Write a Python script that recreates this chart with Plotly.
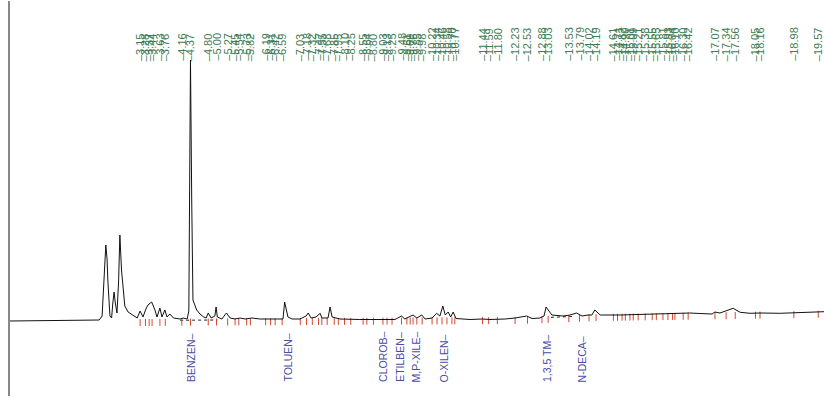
import numpy as np
import plotly.graph_objects as go

# ---- chromatogram trace (retention time in min, detector signal) ----
TIME = [0.00, 0.73, 1.21, 1.69, 2.06, 2.16, 2.23, 2.29, 2.32, 2.35, 2.37, 2.42, 2.46, 2.49, 2.52,
        2.55, 2.59, 2.63, 2.66, 2.70, 2.74, 2.78, 2.86, 2.98, 3.08, 3.15, 3.22, 3.29, 3.34, 3.43,
        3.51, 3.56, 3.63, 3.68, 3.75, 3.80, 3.87, 3.96, 4.12, 4.19, 4.29, 4.33, 4.37, 4.40, 4.43,
        4.52, 4.60, 4.69, 4.75, 4.80, 4.87, 4.96, 4.99, 5.02, 5.13, 5.24, 5.33, 5.45, 5.57, 5.69,
        5.86, 6.05, 6.30, 6.49, 6.61, 6.65, 6.68, 6.73, 6.83, 7.02, 7.17, 7.22, 7.29, 7.41, 7.51,
        7.55, 7.70, 7.75, 7.80, 7.99, 8.47, 8.96, 9.32, 9.48, 9.56, 9.76, 9.85, 9.97, 10.05, 10.22,
        10.33, 10.41, 10.48, 10.54, 10.61, 10.67, 10.73, 10.80, 11.14, 11.43, 11.62, 11.99, 12.23,
        12.51, 12.64, 12.83, 12.93, 12.98, 13.05, 13.12, 13.39, 13.56, 13.72, 13.85, 14.00, 14.09,
        14.16, 14.29, 14.77, 15.25, 15.74, 16.22, 16.46, 16.71, 17.00, 17.07, 17.19, 17.51, 17.68,
        17.92, 18.16, 18.64, 18.89, 19.13, 19.37, 19.71]
SIGNAL = [0.0, 0.3, 0.0, 0.3, 0.5, 1.0, 5.0, 45.0, 76.0, 62.0, 40.0, 5.0, 3.0, 18.0, 29.0,
          18.0, 8.0, 40.0, 86.0, 51.0, 28.0, 15.0, 9.0, 6.0, 3.0, 10.0, 4.0, 12.0, 16.0, 19.0,
          11.0, 4.0, 13.0, 4.0, 11.0, 4.0, 7.0, 3.0, 2.0, 3.0, 2.0, 10.0, 261.0, 120.0, 21.0,
          11.0, 7.0, 4.0, 3.0, 8.0, 3.0, 5.0, 14.0, 4.0, 2.0, 8.0, 3.0, 2.0, 3.0, 2.0,
          3.0, 2.0, 2.0, 1.5, 2.0, 19.0, 12.0, 4.0, 2.0, 2.0, 5.0, 8.0, 3.0, 4.0, 7.7,
          3.0, 3.0, 14.0, 4.0, 2.0, 1.5, 1.5, 1.5, 5.0, 2.0, 6.0, 3.0, 6.0, 2.0, 3.0,
          7.7, 5.0, 15.0, 6.0, 9.0, 4.0, 9.0, 2.5, 1.5, 2.0, 1.5, 2.0, 3.0,
          5.0, 2.5, 3.0, 5.0, 14.0, 10.0, 6.0, 5.0, 6.0, 8.0, 5.0, 6.0, 6.0,
          11.0, 6.0, 6.0, 6.5, 6.5, 7.0, 8.0, 7.5, 7.0, 9.0, 8.0, 12.7, 8.7,
          7.7, 8.0, 7.7, 8.0, 8.5, 9.3, 9.3]

# ---- integrated peaks (retention-time labels) ----
PEAK_RT = [3.15, 3.28, 3.37, 3.44, 3.63, 3.76, 4.16, 4.37, 4.80, 5.00, 5.27, 5.45, 5.54, 5.73,
           5.82, 6.19, 6.31, 6.42, 6.59, 7.03, 7.18, 7.32, 7.47, 7.55, 7.68, 7.85, 7.95, 8.10,
           8.25, 8.55, 8.64, 8.80, 9.03, 9.13, 9.25, 9.48, 9.61, 9.69, 9.76, 9.85, 9.98, 10.22,
           10.34, 10.46, 10.58, 10.70, 10.77, 11.44, 11.59, 11.80, 12.23, 12.53, 12.88, 13.03,
           13.53, 13.79, 14.02, 14.19, 14.61, 14.71, 14.82, 14.90, 15.01, 15.09, 15.21, 15.38,
           15.55, 15.65, 15.81, 15.93, 16.04, 16.10, 16.30, 16.42, 17.07, 17.34, 17.56, 18.05,
           18.16, 18.98, 19.57]

# ---- identified compounds ----
COMPOUNDS = ["BENZEN", "TOLUEN", "CLOROB", "ETILBEN", "M,P-XILE", "O-XILEN", "1,3,5 TM", "N-DECA"]
COMPOUND_RT = [4.37, 6.72, 9.03, 9.44, 9.83, 10.52, 12.99, 13.86]

# ---- baseline drift ----
DRIFT_T = [0.0, 5.0, 12.3, 14.3, 16.7, 19.71]
DRIFT_H = [0.0, 1.5, 3.0, 6.0, 7.5, 9.3]
DASH_T = [[4.12, 5.02], [13.10, 13.62]]

PX_PER_MIN = 41.3
X0_PX = 10
W, H = 824, 416
BASE_PX = 321  # pixel row of zero signal
FONT = "Liberation Sans Narrow, Liberation Sans, Arial Narrow, sans-serif"

fig = go.Figure()

# dashed integration baseline
for seg in DASH_T:
    fig.add_trace(go.Scatter(
        x=seg, y=list(np.interp(seg, DRIFT_T, DRIFT_H) - 0.5), mode="lines",
        line=dict(color="#222222", width=1, dash="3px,3px"), hoverinfo="skip", showlegend=False))

# red event markers
rx, ry = [], []
for t in PEAK_RT:
    b = float(np.interp(t, DRIFT_T, DRIFT_H))
    rx += [t, t, None]
    ry += [b + 1, b - 6, None]
fig.add_trace(go.Scatter(x=rx, y=ry, mode="lines", line=dict(color="#d8472f", width=1),
                         hoverinfo="skip", showlegend=False))

# chromatogram
fig.add_trace(go.Scatter(x=TIME, y=SIGNAL, mode="lines", line=dict(color="#111111", width=1),
                         showlegend=False))

ann = []
for t in PEAK_RT:
    ann.append(dict(x=t, y=BASE_PX - 62, xref="x", yref="y", text=f"\u2013{t:.2f}",
                    textangle=-90, xanchor="center", yanchor="bottom", showarrow=False,
                    font=dict(family=FONT, size=11, color="#3f7d55"),
                    borderpad=0))
for name, t in zip(COMPOUNDS, COMPOUND_RT):
    ann.append(dict(x=t, y=BASE_PX - 383, xref="x", yref="y", text=f"{name}\u2013",
                    textangle=-90, xanchor="center", yanchor="bottom", showarrow=False,
                    font=dict(family=FONT, size=10.5, color="#4b4ba8"),
                    borderpad=0))

xmin = -X0_PX / PX_PER_MIN
xmax = (W - X0_PX) / PX_PER_MIN
fig.update_layout(
    width=W, height=H, margin=dict(l=0, r=0, t=0, b=0),
    paper_bgcolor="white", plot_bgcolor="white",
    xaxis=dict(range=[xmin, xmax], visible=False, fixedrange=True),
    yaxis=dict(range=[BASE_PX - H, BASE_PX], visible=False, fixedrange=True),
    annotations=ann,
    shapes=[dict(type="line", xref="x", yref="y", x0=-1 / PX_PER_MIN, x1=-1 / PX_PER_MIN,
                 y0=BASE_PX - 1, y1=BASE_PX - 396, line=dict(color="#111111", width=1))],
)

fig.write_html("out.html", config={"displayModeBar": False},
               post_script="document.body.style.margin='0';document.body.style.overflow='hidden';")
